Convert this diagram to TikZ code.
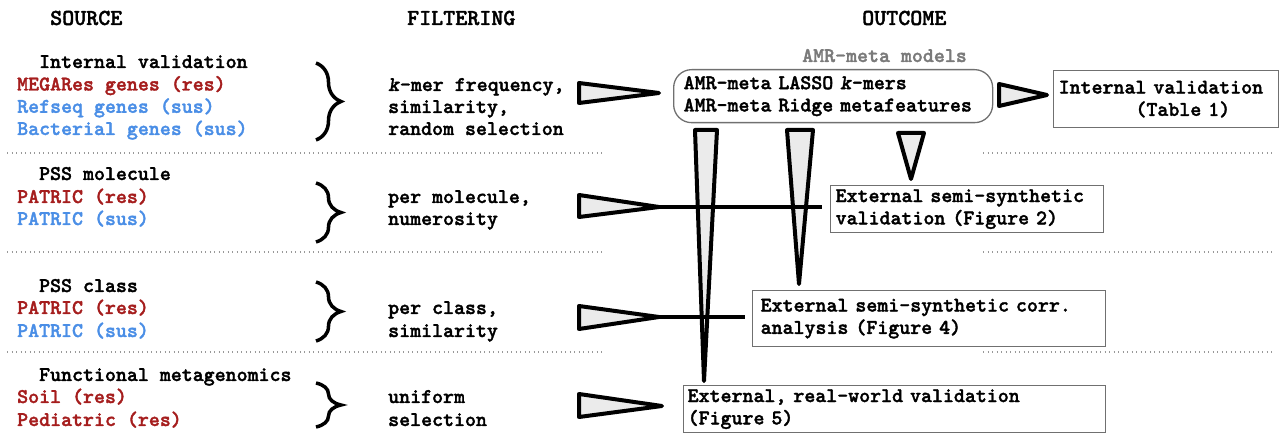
\documentclass[tikz,border=0pt]{standalone}
\usepackage{fontspec}
\setmainfont{lmmonolt10-bold.otf}[ItalicFont=lmmonolt10-boldoblique.otf, BoldFont=lmmonolt10-bold.otf, BoldItalicFont=lmmonolt10-boldoblique.otf, FakeBold=1.6]
\usetikzlibrary{decorations.pathreplacing}
\definecolor{resred}{HTML}{A51D1D}
\definecolor{susblue}{HTML}{4A8EE6}
\definecolor{trifill}{HTML}{EBEBEB}
\definecolor{boxgray}{HTML}{707070}
\definecolor{labgray}{HTML}{7A7A7A}
\newcommand\mainfs{\fontsize{20.9}{22.3}\selectfont}
\newcommand\headfs{\fontsize{22.9}{24}\selectfont}
\begin{document}
\begin{tikzpicture}[x=1pt,y=-1pt,
  txt/.style={anchor=base west, inner sep=0pt, font=\mainfs},
  head/.style={anchor=base west, inner sep=0pt, font=\headfs},
  res/.style={txt, text=resred},
  sus/.style={txt, text=susblue},
  outbox/.style={draw=boxgray, line width=1.3pt, anchor=north west, align=left, font=\mainfs, inner ysep=0pt, inner xsep=5pt},
  tri/.style={draw=black, line width=4pt, fill=trifill, line join=round},
  conn/.style={draw=black, line width=4pt},
  sep/.style={draw=gray!80, line width=1.2pt, dash pattern=on 1.2pt off 3.3pt},
  brc/.style={draw=black, line width=3.5pt, decorate, decoration={brace, amplitude=25pt}}
]
\useasboundingbox (0,0) rectangle (1280,435);

% headers
\node[head] (hsrc) at (50,25) {SOURCE};
\node[head] (hfil) at (407,25) {FILTERING};
\node[head] (hout) at (862,25) {OUTCOME};

% separators
\draw[sep] (7,153) -- (603,153);
\draw[sep] (983,153) -- (1273,153);
\draw[sep] (7,252) -- (603,252);
\draw[sep] (983,252) -- (1273,252);
\draw[sep] (7,352) -- (603,352);
\draw[sep] (983,352) -- (1273,352);

% row 1 sources
\node[txt] (s1t) at (17,68) {\phantom{XX}Internal validation};
\node[res] (s1a) at (17,90.5) {MEGARes genes (res)};
\node[sus] (s1b) at (17,112.8) {Refseq genes (sus)};
\node[sus] (s1c) at (17,135) {Bacterial genes (sus)};
% row 2
\node[txt] (s2t) at (17,180) {\phantom{XX}PSS molecule};
\node[res] (s2a) at (17,203) {PATRIC (res)};
\node[sus] (s2b) at (17,225) {PATRIC (sus)};
% row 3
\node[txt] (s3t) at (17,292) {\phantom{XX}PSS class};
\node[res] (s3a) at (17,314) {PATRIC (res)};
\node[sus] (s3b) at (17,337) {PATRIC (sus)};
% row 4
\node[txt] (s4t) at (17,381) {\phantom{XX}Functional metagenomics};
\node[res] (s4a) at (17,403) {Soil (res)};
\node[res] (s4b) at (17,426) {Pediatric (res)};

% braces
\draw[brc] (316,63) -- (316,140);
\draw[brc] (316,183) -- (316,242);
\draw[brc] (316,282) -- (316,341);
\draw[brc] (316,383) -- (316,427);

% filtering
\node[txt] (f1a) at (388,91) {\textit{k}-mer frequency,};
\node[txt] (f1b) at (388,113) {similarity,};
\node[txt] (f1c) at (388,135) {random selection};
\node[txt] (f2a) at (388,203) {per molecule,};
\node[txt] (f2b) at (388,225) {numerosity};
\node[txt] (f3a) at (388,314) {per class,};
\node[txt] (f3b) at (388,337) {similarity};
\node[txt] (f4a) at (388,403) {uniform};
\node[txt] (f4b) at (388,426) {selection};

% models
\node[txt, text=labgray] (mlab) at (802,62) {AMR-meta models};
\node[outbox, rounded corners=18pt, inner xsep=10pt, text width=299pt, minimum width=319pt, minimum height=53pt] (models) at (673,69)
  {AMR-meta LASSO \textit{k}-mers\\AMR-meta Ridge metafeatures};

% outcome boxes
\node[outbox, text width=215pt, minimum width=225pt, minimum height=57pt] (tab) at (1053,70)
  {Internal validation\\\phantom{XXXXXXX}(Table 1)};
\node[outbox, text width=263pt, minimum width=273pt, minimum height=47pt] (semi) at (830,185)
  {External semi-synthetic\\validation (Figure 2)};
\node[outbox, inner xsep=8pt, text width=337pt, minimum width=353pt, minimum height=56pt] (corr) at (752,290)
  {External semi-synthetic corr.\\analysis (Figure 4)};
\node[outbox, inner xsep=4pt, text width=414pt, minimum width=422pt, minimum height=47pt] (real) at (683,385)
  {External, real-world validation\\(Figure 5)};

% vertical triangles from models
\coordinate (va1) at (695,130); \coordinate (va2) at (717,130); \coordinate (vat) at (704,381);
\coordinate (vb1) at (787,130); \coordinate (vb2) at (813,130); \coordinate (vbt) at (799,284);
\coordinate (vc1) at (898,133); \coordinate (vc2) at (924,133); \coordinate (vct) at (911,179);
\draw[tri] (va1) -- (va2) -- (vat) -- cycle;
\draw[tri] (vb1) -- (vb2) -- (vbt) -- cycle;
\draw[tri] (vc1) -- (vc2) -- (vct) -- cycle;

% horizontal triangles
\coordinate (t1a) at (579,83); \coordinate (t1b) at (579,103); \coordinate (t1t) at (659,93);
\coordinate (t2a) at (579,195); \coordinate (t2b) at (579,217); \coordinate (t2t) at (659,207);
\coordinate (t3a) at (579,306); \coordinate (t3b) at (579,329); \coordinate (t3t) at (659,317);
\coordinate (t4a) at (579,394); \coordinate (t4b) at (579,417); \coordinate (t4t) at (662,406);
\coordinate (t5a) at (999,84); \coordinate (t5b) at (999,106); \coordinate (t5t) at (1047,95);
\draw[tri] (t1a) -- (t1t) -- (t1b) -- cycle;
\draw[tri] (t2a) -- (t2t) -- (t2b) -- cycle;
\draw[tri] (t3a) -- (t3t) -- (t3b) -- cycle;
\draw[tri] (t4a) -- (t4t) -- (t4b) -- cycle;
\draw[tri] (t5a) -- (t5t) -- (t5b) -- cycle;

% connector lines
\coordinate (l2e) at (822,207);
\coordinate (l3e) at (745,317);
\draw[conn] (t2t) -- (l2e);
\draw[conn] (t3t) -- (l3e);
\end{tikzpicture}
\end{document}
